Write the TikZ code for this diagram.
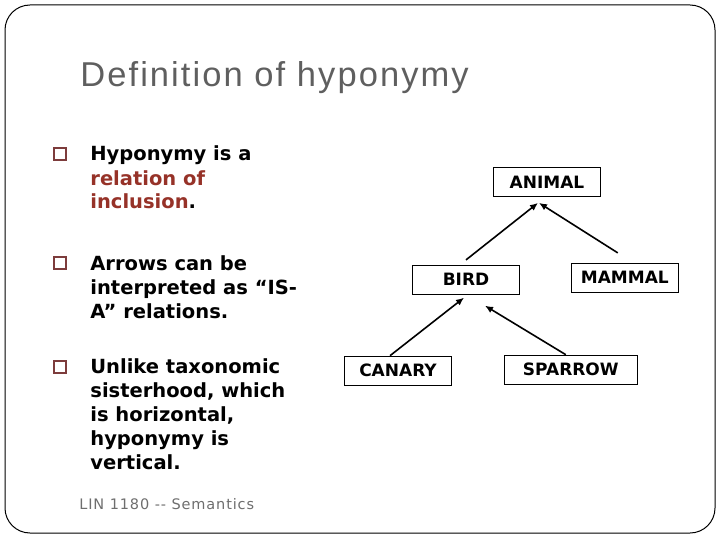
\documentclass[tikz,border=0pt]{standalone}
\usepackage{fontspec}
\setmainfont{DejaVu Sans}
\newfontfamily\titlefont[LetterSpace=6]{Liberation Sans}
\newfontfamily\footfont[LetterSpace=6]{DejaVu Sans}
\usepackage{xcolor}
\usetikzlibrary{arrows.meta, positioning}
\definecolor{titlegray}{RGB}{95,95,95}
\definecolor{footgray}{RGB}{110,110,110}
\definecolor{bulletbrown}{RGB}{125,60,60}
\definecolor{inclred}{RGB}{150,50,40}

\begin{document}
\begin{tikzpicture}[x=1pt, y=-1pt, thick]
        \tikzstyle{concept} = [rectangle, draw=black, line width=0.8pt, minimum width=107pt, minimum height=29pt, inner sep=2pt, text centered, font=\fontsize{17}{20}\selectfont\bfseries]
        \tikzstyle{bulletbox} = [rectangle, draw=bulletbrown, line width=1.6pt, minimum size=12pt, inner sep=0pt]
        \tikzstyle{point} = [anchor=base west, inner sep=0pt, align=left, font=\fontsize{19.5}{24}\selectfont\bfseries]
        \tikzstyle{isarrow} = [line width=1.6pt, -{Latex[length=8pt, width=7pt]}]

        \useasboundingbox (0,0) rectangle (720,540);
        \draw [line width=1pt, rounded corners=25pt] (5,5) rectangle (715,533);

        \node (title) [anchor=base west, inner sep=0pt, text=titlegray, font=\titlefont\fontsize{34.5}{40}\selectfont] at (80,87) {Definition of hyponymy};

        % left column (base = last line)
        \node (b1) [bulletbox] at (60,154) {};
        \node (p1) [point] at (90,209) {Hyponymy is a\\ \textcolor{inclred}{relation of}\\ \textcolor{inclred}{inclusion}.};
        \node (b2) [bulletbox] at (60,263) {};
        \node (p2) [point] at (90,318) {Arrows can be\\ interpreted as “IS-\\ A” relations.};
        \node (b3) [bulletbox] at (60,367) {};
        \node (p3) [point] at (90,469) {Unlike taxonomic\\ sisterhood, which\\ is horizontal,\\ hyponymy is\\ vertical.};

        \node (foot) [anchor=base west, inner sep=0pt, text=footgray, font=\footfont\fontsize{14.5}{16}\selectfont] at (79,509) {LIN 1180 -{}- Semantics};

        % tree
        \node (animal) [concept] at (547,182) {ANIMAL};
        \node (bird) [concept, below=68pt of animal, xshift=-81pt] {BIRD};
        \node (mammal) [concept, right=51pt of bird, yshift=2pt] {MAMMAL};
        \node (canary) [concept, below=61pt of bird, xshift=-68pt] {CANARY};
        \node (sparrow) [concept, right=52pt of canary, yshift=1pt, minimum width=133pt] {SPARROW};

        \draw [isarrow] ([yshift=5pt]bird.north) -- ([xshift=-9pt, yshift=-6pt]animal.south);
        \draw [isarrow] ([xshift=-7pt, yshift=10pt]mammal.north) -- ([xshift=-8pt, yshift=-6pt]animal.south);
        \draw [isarrow] ([xshift=-8pt]canary.north) -- ([xshift=-2pt, yshift=-3pt]bird.south);
        \draw [isarrow] ([xshift=-5pt]sparrow.north) -- ([xshift=19pt, yshift=-11pt]bird.south);
    \end{tikzpicture}
\end{document}
